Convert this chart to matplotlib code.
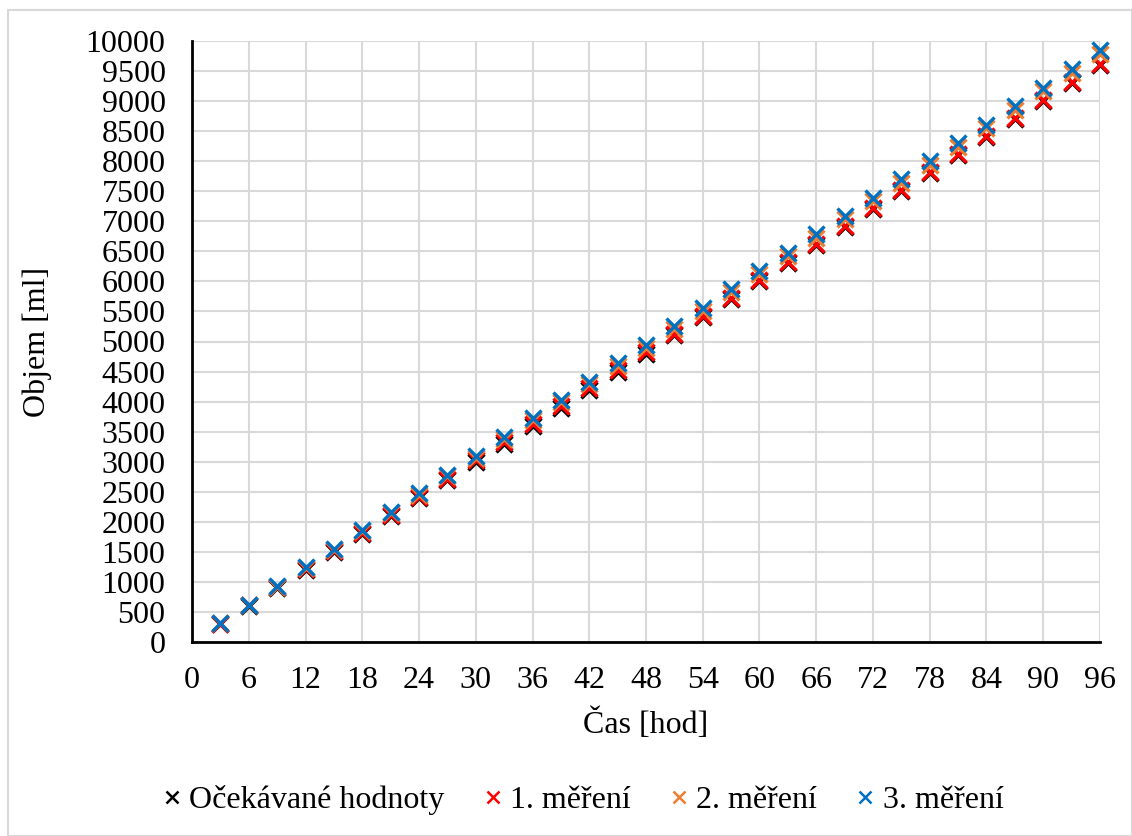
import numpy as np
import matplotlib.pyplot as plt
from matplotlib.patches import Rectangle

plt.rcParams['font.family'] = ['Liberation Serif', 'DejaVu Serif']

hours = [3, 6, 9, 12, 15, 18, 21, 24, 27, 30, 33, 36, 39, 42, 45, 48,
         51, 54, 57, 60, 63, 66, 69, 72, 75, 78, 81, 84, 87, 90, 93, 96]
expected = [300, 600, 900, 1200, 1500, 1800, 2100, 2400, 2700, 3000, 3300, 3600,
            3900, 4200, 4500, 4800, 5100, 5400, 5700, 6000, 6300, 6600, 6900, 7200,
            7500, 7800, 8100, 8400, 8700, 9000, 9300, 9600]
meas1 = [305, 610, 910, 1215, 1515, 1815, 2115, 2420, 2720, 3020, 3320, 3620,
         3920, 4220, 4520, 4820, 5120, 5420, 5720, 6020, 6320, 6620, 6920, 7220,
         7520, 7820, 8120, 8420, 8720, 9020, 9320, 9620]
meas2 = [312, 612, 915, 1230, 1530, 1850, 2140, 2450, 2760, 3065, 3375, 3690,
         3990, 4290, 4600, 4900, 5210, 5515, 5820, 6120, 6430, 6730, 7030, 7340,
         7640, 7940, 8240, 8550, 8850, 9160, 9460, 9780]
meas3 = [318, 620, 925, 1240, 1545, 1870, 2165, 2475, 2785, 3095, 3405, 3720,
         4025, 4330, 4640, 4950, 5260, 5560, 5870, 6170, 6480, 6785, 7085, 7395,
         7700, 8000, 8300, 8610, 8920, 9220, 9530, 9850]

series = [(expected, 'Očekávané hodnoty', '#000000'),
          (meas1, '1. měření', '#FF0000'),
          (meas2, '2. měření', '#ED7D31'),
          (meas3, '3. měření', '#0070C0')]

fig = plt.figure(figsize=(11.32, 8.36), dpi=100)
ax = fig.add_axes([192 / 1132, 1 - 642 / 836, (1100 - 192) / 1132, (642 - 41) / 836])

for vals, label, color in series:
    ax.plot(hours, vals, linestyle='none', marker='x', markersize=11,
            markeredgewidth=2.4, color=color, label=label, clip_on=False)

ax.set_xlim(0, 96)
ax.set_ylim(0, 10000)
ax.set_xticks(np.arange(0, 97, 6))
ax.set_yticks(np.arange(0, 10001, 500))
ax.tick_params(length=0, labelsize=23)
ax.tick_params(axis='x', pad=17)
ax.tick_params(axis='y', pad=19)
ax.grid(True, color='#d9d9d9', linewidth=1.5)
ax.set_axisbelow(True)
for s in ['top', 'right']:
    ax.spines[s].set_visible(False)
for s in ['left', 'bottom']:
    ax.spines[s].set_linewidth(2)
    ax.spines[s].set_color('black')

ax.set_xlabel('Čas [hod]', fontsize=23, labelpad=10)
ax.set_ylabel('Objem [ml]', fontsize=23, labelpad=24)

leg = fig.legend(loc='center', bbox_to_anchor=(0.515, 1 - 800 / 836), ncol=4,
                 frameon=False, fontsize=23, handlelength=0.6,
                 handletextpad=0.25, columnspacing=1.2)
for h in leg.legend_handles:
    h.set_markersize(9)
    h.set_markeredgewidth(1.8)

fig.patches.append(Rectangle((8 / 1132, 0), 1 - 8 / 1132, 1 - 10 / 836,
                             transform=fig.transFigure, fill=False,
                             edgecolor='#d9d9d9', linewidth=1.5))

fig.savefig('out.png', dpi=100)
